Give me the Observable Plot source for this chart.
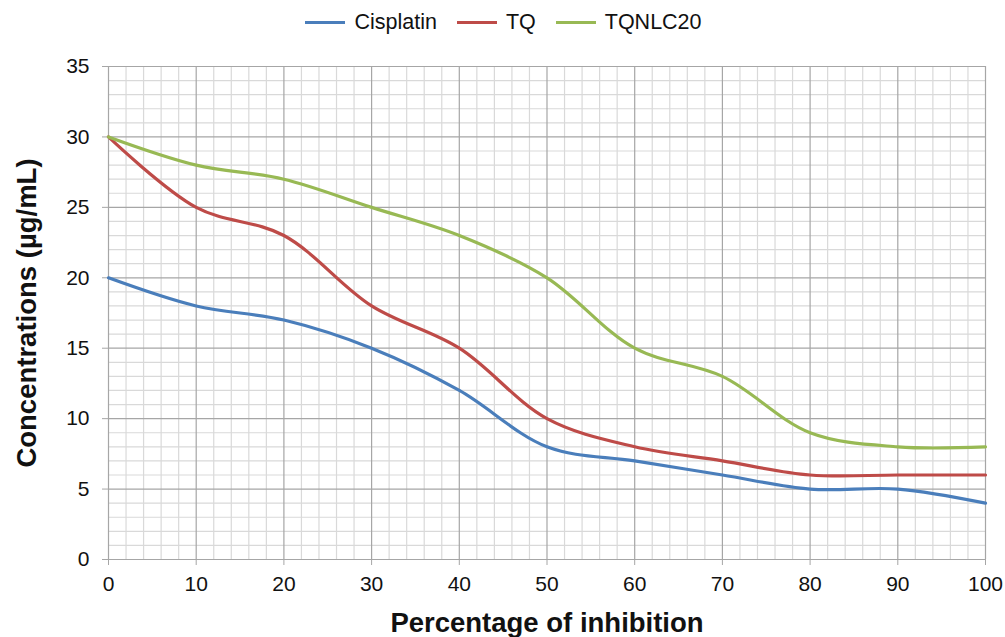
<!DOCTYPE html>
<html>
<head>
<meta charset="utf-8">
<script src="https://cdn.jsdelivr.net/npm/d3@7"></script>
<script src="https://cdn.jsdelivr.net/npm/@observablehq/plot@0.6"></script>
<style>
  body { margin: 0; background: #fff; font-family: "Liberation Sans", Arial, sans-serif; }
  #legend { height: 45px; display: flex; justify-content: center; align-items: center; gap: 20px; font-size: 21.5px; color: #111; padding-left: 2px; box-sizing: border-box; }
  .item { display: flex; align-items: center; gap: 9px; }
  .sw { width: 40px; height: 3px; display: inline-block; }
</style>
</head>
<body>
<div id="legend"></div>
<div id="chart"></div>
<script>
const inhibition = [0, 10, 20, 30, 40, 50, 60, 70, 80, 90, 100];
const cisplatin = [20, 18, 17, 15, 12, 8, 7, 6, 5, 5, 4];
const tq = [30, 25, 23, 18, 15, 10, 8, 7, 6, 6, 6];
const tqnlc20 = [30, 28, 27, 25, 23, 20, 15, 13, 9, 8, 8];
const seriesNames = ["Cisplatin", "TQ", "TQNLC20"];
const seriesColors = ["#4a7ebb", "#be4b48", "#98b954"];
const xTicks = [0, 10, 20, 30, 40, 50, 60, 70, 80, 90, 100];
const yTicks = [0, 5, 10, 15, 20, 25, 30, 35];
const xMinor = d3.range(0, 101, 2);
const yMinor = d3.range(0, 36, 1);
const xTitle = "Percentage of inhibition";
const yTitle = "Concentrations (µg/mL)";

const seriesValues = [cisplatin, tq, tqnlc20];
const data = [];
seriesNames.forEach((name, i) => {
  inhibition.forEach((x, j) => data.push({series: name, x, y: seriesValues[i][j]}));
});

const legend = document.getElementById("legend");
seriesNames.forEach((n, i) => {
  const it = document.createElement("div");
  it.className = "item";
  it.innerHTML = `<span class="sw" style="background:${seriesColors[i]}"></span><span>${n}</span>`;
  legend.appendChild(it);
});

const chart = Plot.plot({
  width: 1005,
  height: 592,
  marginTop: 21,
  marginBottom: 78,
  marginLeft: 108,
  marginRight: 20,
  style: {fontFamily: "'Liberation Sans', Arial, sans-serif", background: "#fff"},
  x: {domain: [0, 100]},
  y: {domain: [0, 35]},
  color: {domain: seriesNames, range: seriesColors},
  marks: [
    Plot.ruleX(xMinor.filter(v => v % 10 !== 0), {stroke: "#d9d9d9", strokeWidth: 1.2, y1: 0, y2: 35}),
    Plot.ruleY(yMinor.filter(v => v % 5 !== 0), {stroke: "#d9d9d9", strokeWidth: 1.2, x1: 0, x2: 100}),
    Plot.ruleX(xTicks, {stroke: "#a6a6a6", strokeWidth: 1.2, y1: 0, y2: 35}),
    Plot.ruleY(yTicks, {stroke: "#a6a6a6", strokeWidth: 1.2, x1: 0, x2: 100}),
    Plot.axisX({ticks: xTicks, tickSize: 6, stroke: "#a6a6a6", fill: "#111", fontSize: 21, tickPadding: 11, label: null}),
    Plot.axisY({ticks: yTicks, tickSize: 6, stroke: "#a6a6a6", fill: "#111", fontSize: 21, tickPadding: 13, label: null}),
    Plot.line(data, {x: "x", y: "y", z: "series", stroke: "series", strokeWidth: 3.2, curve: "catmull-rom"}),
    Plot.text([xTitle], {frameAnchor: "bottom", dy: 64, lineAnchor: "middle", fontSize: 27.5, fontWeight: "bold", fill: "#111"}),
    Plot.text([yTitle], {frameAnchor: "left", dx: -81, rotate: -90, textAnchor: "middle", lineAnchor: "middle", fontSize: 27.5, fontWeight: "bold", fill: "#111"})
  ]
});
document.getElementById("chart").appendChild(chart);
</script>
</body>
</html>
